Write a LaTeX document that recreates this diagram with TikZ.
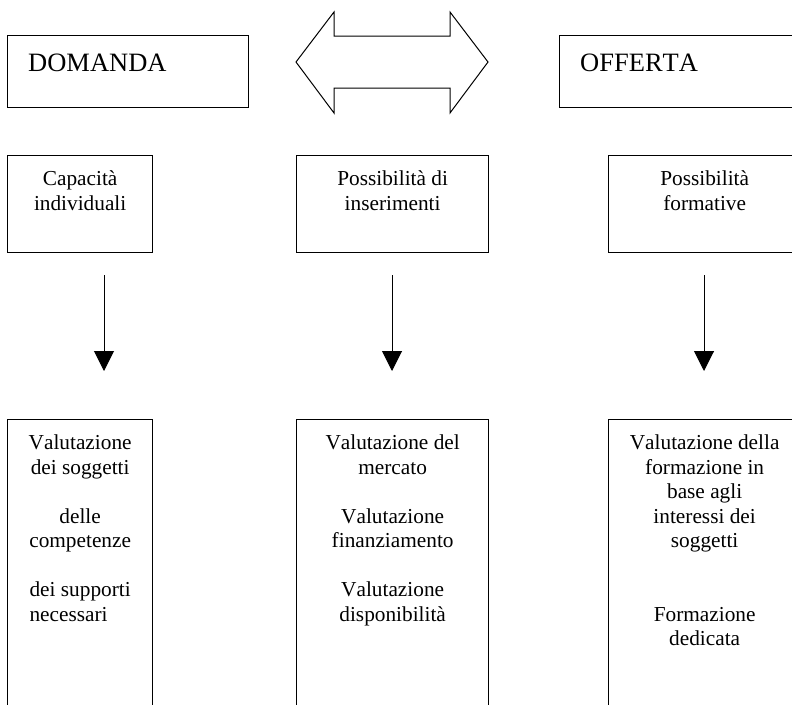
\documentclass[tikz,border=0pt]{standalone}
\usepackage{fontspec}
\setmainfont{Liberation Serif}[Kerning=Off]
\usetikzlibrary{positioning,arrows.meta}
\begin{document}
\begin{tikzpicture}[x=1pt,y=-1pt,
    box/.style={draw,line width=1.3pt,rectangle,inner sep=0pt,anchor=north west},
    txt/.style={inner sep=0pt,outer sep=0pt,align=center,font=\fontsize{21.3}{24.5}\selectfont},
    big/.style={inner sep=0pt,anchor=base west,font=\fontsize{26.5}{30}\selectfont},
    down/.style={line width=1pt,-{Triangle[length=20pt,width=20pt]}}]
  \useasboundingbox (0,0) rectangle (792,704);
  \node[box,minimum width=241pt,minimum height=72pt] (domanda) at (7,35) {};
  \node[box,minimum width=241pt,minimum height=72pt] (offerta) at (559,35) {};
  \node[big] (tdomanda) at (28,71) {DOMANDA};
  \node[big] (tofferta) at (580,71) {OFFERTA};
  \draw[line width=1pt] (296,62) -- (334,12) -- (334,36) -- (450,36) -- (450,12) -- (488,62)
    -- (450,113) -- (450,88) -- (334,88) -- (334,113) -- cycle;
  \node[box,minimum width=145pt,minimum height=97pt] (capacita) at (7,155) {};
  \node[box,minimum width=192pt,minimum height=97pt] (inserimenti) at (296,155) {};
  \node[box,minimum width=192pt,minimum height=97pt] (formative) at (608,155) {};
  \node[txt,below=16pt of capacita.north] {Capacità\\individuali};
  \node[txt,below=16pt of inserimenti.north] {Possibilità di\\inserimenti};
  \node[txt,below=16pt of formative.north] {Possibilità\\formative};
  \foreach \x/\n in {104/1,392/2,704/3}{
    \coordinate (s\n) at (\x,275);
    \coordinate (e\n) at (\x,371);
    \draw[down] (s\n) -- (e\n);
  }
  \node[box,minimum width=145pt,minimum height=300pt] (soggetti) at (7,419) {};
  \node[box,minimum width=192pt,minimum height=300pt] (mercato) at (296,419) {};
  \node[box,minimum width=192pt,minimum height=300pt] (formazione) at (608,419) {};
  \node[txt,below=16pt of soggetti.north] {Valutazione\\dei soggetti\\[24.5pt]delle\\competenze\\[24.5pt]dei supporti\\\rlap{necessari}\phantom{dei supporti}};
  \node[txt,below=16pt of mercato.north] {Valutazione del\\mercato\\[24.5pt]Valutazione\\finanziamento\\[24.5pt]Valutazione\\disponibilità};
  \node[txt,below=16pt of formazione.north] {Valutazione della\\formazione in\\base agli\\interessi dei\\soggetti\\[49pt]Formazione\\dedicata};
\end{tikzpicture}
\end{document}
